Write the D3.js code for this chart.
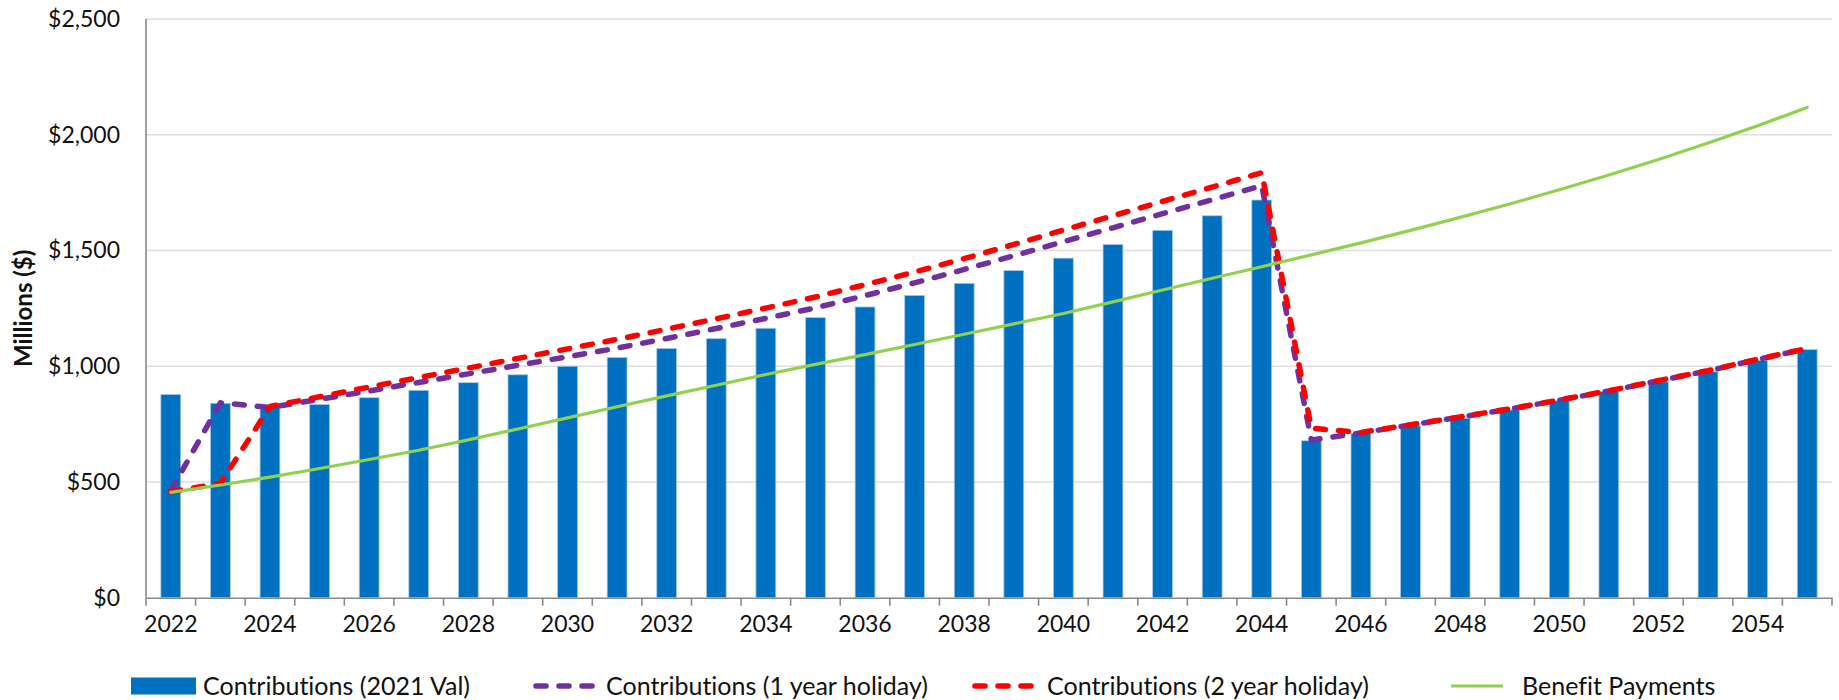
<!DOCTYPE html>
<html>
<head>
<meta charset="utf-8">
<script src="https://cdn.jsdelivr.net/npm/d3@7/dist/d3.min.js"></script>
<style>
  html, body { margin: 0; padding: 0; background: #fff; }
  svg { display: block; font-family: Lato, "Open Sans", sans-serif; font-variant-ligatures: none; }
</style>
</head>
<body>
<svg id="chart" width="1839" height="700"></svg>
<script>
// Projection years
const years = [2022, 2023, 2024, 2025, 2026, 2027, 2028, 2029, 2030, 2031, 2032, 2033,
  2034, 2035, 2036, 2037, 2038, 2039, 2040, 2041, 2042, 2043, 2044, 2045, 2046, 2047,
  2048, 2049, 2050, 2051, 2052, 2053, 2054, 2055];

// Contributions, $ millions
const contrib2021Val = [878, 840, 828, 835, 864, 896, 929, 963, 1000, 1038, 1077, 1119,
  1164, 1210, 1256, 1306, 1358, 1413, 1467, 1526, 1587, 1650, 1718, 678, 710, 742,
  775, 811, 850, 890, 933, 976, 1025, 1072];

const contrib1YearHoliday = [462, 842, 822, 857, 893, 930, 967, 1004, 1041, 1078, 1120, 1163,
  1207, 1252, 1305, 1360, 1418, 1477, 1538, 1598, 1659, 1719, 1780, 681, 712, 746,
  780, 815, 853, 893, 937, 980, 1029, 1076];

const contrib2YearHoliday = [458, 494, 826, 868, 910, 951, 992, 1034, 1075, 1116, 1160, 1205,
  1251, 1299, 1352, 1407, 1465, 1526, 1588, 1650, 1712, 1774, 1836, 732, 714, 747,
  781, 816, 854, 894, 938, 981, 1030, 1077];

// Benefit payments, $ millions
const benefitPayments = [455, 487, 521, 558, 597, 637, 682, 729, 777, 825, 872, 918,
  964, 1008, 1050, 1094, 1138, 1183, 1228, 1278, 1329, 1380, 1430, 1481, 1533, 1587,
  1643, 1701, 1762, 1826, 1893, 1964, 2039, 2118];

const yTicks = [0, 500, 1000, 1500, 2000, 2500];
const yTitle = "Millions ($)";
const legendLabels = ["Contributions (2021 Val)", "Contributions (1 year holiday)",
  "Contributions (2 year holiday)", "Benefit Payments"];

(function draw() {
  const colors = { bar: "#0070C0", purple: "#7030A0", red: "#FF0000", green: "#92D050" };
  const fontFamily = "Lato, 'Open Sans', sans-serif";

  const svg = d3.select("#chart");
  const plotLeft = 146, plotRight = 1832, plotTop = 19, plotBottom = 597.7;

  const x = d3.scaleBand().domain(years).range([plotLeft, plotRight])
    .paddingInner(0.6).paddingOuter(0.3);
  const xCat = d3.scaleBand().domain(years).range([plotLeft, plotRight]).padding(0);
  const y = d3.scaleLinear().domain([0, 2500]).range([plotBottom, plotTop]);

  // Horizontal gridlines
  svg.append("g")
    .selectAll("line")
    .data(yTicks.filter(d => d > 0))
    .join("line")
    .attr("x1", plotLeft).attr("x2", plotRight)
    .attr("y1", d => y(d)).attr("y2", d => y(d))
    .attr("stroke", "#dedede").attr("stroke-width", 1.4);

  // Y axis labels
  const fmt = d3.format(",");
  const yAxis = d3.axisLeft(y).tickValues(yTicks).tickSize(0).tickPadding(26)
    .tickFormat(d => "$" + fmt(d));
  const gy = svg.append("g").attr("transform", `translate(${plotLeft},0)`).call(yAxis);
  gy.select(".domain").remove();
  gy.selectAll("text").attr("font-size", 23).attr("fill", "#111")
    .attr("font-family", fontFamily);

  // Bars
  svg.append("g")
    .selectAll("rect")
    .data(years.map((yr, i) => ({ yr, v: contrib2021Val[i] })))
    .join("rect")
    .attr("x", d => x(d.yr))
    .attr("width", x.bandwidth())
    .attr("y", d => y(d.v))
    .attr("height", d => y(0) - y(d.v))
    .attr("fill", colors.bar)
    .attr("stroke", "#a8c8e8").attr("stroke-width", 0.8);

  // Lines
  const cx = yr => x(yr) + x.bandwidth() / 2;
  const line = d3.line().x(d => cx(d.yr)).y(d => y(d.v));
  const series = [
    { vals: contrib1YearHoliday, color: colors.purple, width: 5.5, dash: "10 13" },
    { vals: contrib2YearHoliday, color: colors.red, width: 5.5, dash: "10 13" },
    { vals: benefitPayments, color: colors.green, width: 3.2, dash: null }
  ];
  series.forEach(s => {
    svg.append("path")
      .datum(years.map((yr, i) => ({ yr, v: s.vals[i] })))
      .attr("d", line)
      .attr("fill", "none")
      .attr("stroke", s.color)
      .attr("stroke-width", s.width)
      .attr("stroke-linecap", "round")
      .attr("stroke-linejoin", "round")
      .attr("stroke-dasharray", s.dash);
  });

  // Axis lines
  svg.append("line").attr("x1", plotLeft).attr("x2", plotLeft)
    .attr("y1", plotTop).attr("y2", plotBottom)
    .attr("stroke", "#8a8a8a").attr("stroke-width", 1.6);

  const xAxis = d3.axisBottom(xCat).tickSize(0).tickPadding(18)
    .tickFormat(d => (d % 2 === 0 ? d : ""));
  const gx = svg.append("g").attr("transform", `translate(0,${plotBottom})`).call(xAxis);
  gx.select(".domain").attr("stroke", "#8a8a8a").attr("stroke-width", 1.6);
  gx.selectAll("text").attr("font-size", 23).attr("fill", "#111")
    .attr("font-family", fontFamily);

  // Category boundary tick marks
  const bounds = years.map(d => xCat(d)).concat([plotRight]);
  svg.append("g")
    .selectAll("line")
    .data(bounds)
    .join("line")
    .attr("x1", d => d).attr("x2", d => d)
    .attr("y1", plotBottom).attr("y2", plotBottom + 8)
    .attr("stroke", "#8a8a8a").attr("stroke-width", 1.6);

  // Y axis title
  svg.append("text")
    .attr("transform", `translate(32,${(plotTop + plotBottom) / 2}) rotate(-90)`)
    .attr("text-anchor", "middle")
    .attr("font-size", 24).attr("font-weight", "bold").attr("fill", "#111")
    .text(yTitle);

  // Legend
  const ly = 686;
  const legend = svg.append("g").attr("font-size", 25).attr("fill", "#111");
  const items = [
    { x0: 131, x1: 196, tx: 203, kind: "rect", color: colors.bar },
    { x0: 536, x1: 594, tx: 606, kind: "dash", color: colors.purple },
    { x0: 975, x1: 1033, tx: 1047, kind: "dash", color: colors.red },
    { x0: 1451, x1: 1503, tx: 1522, kind: "solid", color: colors.green }
  ];
  items.forEach((it, i) => {
    if (it.kind === "rect") {
      legend.append("rect").attr("x", it.x0).attr("y", ly - 8.5)
        .attr("width", it.x1 - it.x0).attr("height", 17).attr("fill", it.color);
    } else {
      legend.append("line").attr("x1", it.x0).attr("x2", it.x1).attr("y1", ly).attr("y2", ly)
        .attr("stroke", it.color)
        .attr("stroke-width", it.kind === "dash" ? 5.5 : 3.2)
        .attr("stroke-linecap", it.kind === "dash" ? "round" : "butt")
        .attr("stroke-dasharray", it.kind === "dash" ? "10 13" : null);
    }
    legend.append("text").attr("x", it.tx).attr("y", ly).attr("dy", "0.35em")
      .text(legendLabels[i]);
  });
})();
</script>
</body>
</html>
